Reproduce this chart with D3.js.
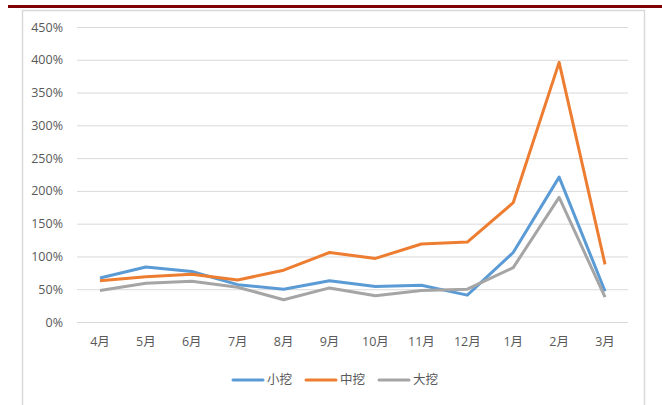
<!DOCTYPE html>
<html>
<head>
<meta charset="utf-8">
<script src="https://cdn.jsdelivr.net/npm/d3@7"></script>
<style>
  body { margin: 0; background: #fff; }
  svg { display: block; }
  .tick text { fill: #595959; font-family: "Open Sans", "Noto Sans CJK SC", sans-serif; font-size: 12.5px; }
</style>
</head>
<body>
<svg id="chart" width="662" height="405"></svg>
<script>
const months = ['4月', '5月', '6月', '7月', '8月', '9月', '10月', '11月', '12月', '1月', '2月', '3月']
const yTicks = [0, 50, 100, 150, 200, 250, 300, 350, 400, 450]
const seriesNames = ['小挖', '中挖', '大挖']
const small = [67, 84, 77, 57, 50, 63, 54, 56, 41, 106, 221, 47]
const medium = [63, 69, 73, 64, 79, 106, 97, 119, 122, 182, 396, 88]
const large = [48, 59, 62, 53, 34, 52, 40, 48, 50, 83, 190, 38]
const colors = ['#5b9bd5', '#ed7d31', '#a5a5a5']

const svg = d3.select('#chart')
const margin = { left: 77, right: 34, top: 27, bottom: 83 }
const width = 662 - margin.left - margin.right
const height = 405 - margin.top - margin.bottom

// top rule and frame
svg.append('rect').attr('x', 8).attr('y', 5).attr('width', 654).attr('height', 3).attr('fill', '#7f0000')
svg.append('path')
  .attr('d', 'M22.5,405 V10.5 H644.5 V405')
  .attr('fill', 'none').attr('stroke', '#d9d9d9').attr('stroke-width', 1.5)

const g = svg.append('g').attr('transform', `translate(${margin.left},${margin.top})`)

const x = d3.scaleBand().domain(months).range([0, width])
const y = d3.scaleLinear().domain([0, 450]).range([height, 0])

const yAxis = g.append('g')
  .call(d3.axisLeft(y).tickValues(yTicks).tickSize(-width).tickPadding(14).tickFormat(d => d + '%'))
yAxis.select('.domain').remove()
yAxis.selectAll('.tick line').attr('stroke', '#d9d9d9').attr('stroke-width', 1)

const xAxis = g.append('g').attr('transform', `translate(0,${height})`)
  .call(d3.axisBottom(x).tickSize(0).tickPadding(15))
xAxis.select('.domain').remove()

const line = d3.line()
  .x((d, i) => x(months[i]) + x.bandwidth() / 2)
  .y(d => y(d))

const allSeries = [small, medium, large]
allSeries.forEach((s, i) => {
  g.append('path')
    .datum(s)
    .attr('fill', 'none')
    .attr('stroke', colors[i])
    .attr('stroke-width', 3)
    .attr('stroke-linejoin', 'round')
    .attr('d', line)
})

// legend
const legend = svg.append('g').attr('transform', 'translate(233,380)')
const legendX = [0, 73, 146]
seriesNames.forEach((name, i) => {
  const item = legend.append('g').attr('transform', `translate(${legendX[i]},0)`)
  item.append('line').attr('x1', 0).attr('x2', 30).attr('y1', 0).attr('y2', 0)
    .attr('stroke', colors[i]).attr('stroke-width', 3).attr('stroke-linecap', 'round')
  item.append('text').attr('x', 34).attr('y', 0).attr('dy', '0.35em')
    .attr('fill', '#595959')
    .style('font-family', '"Noto Sans CJK SC", sans-serif').style('font-size', '12.5px')
    .text(name)
})
</script>
</body>
</html>
